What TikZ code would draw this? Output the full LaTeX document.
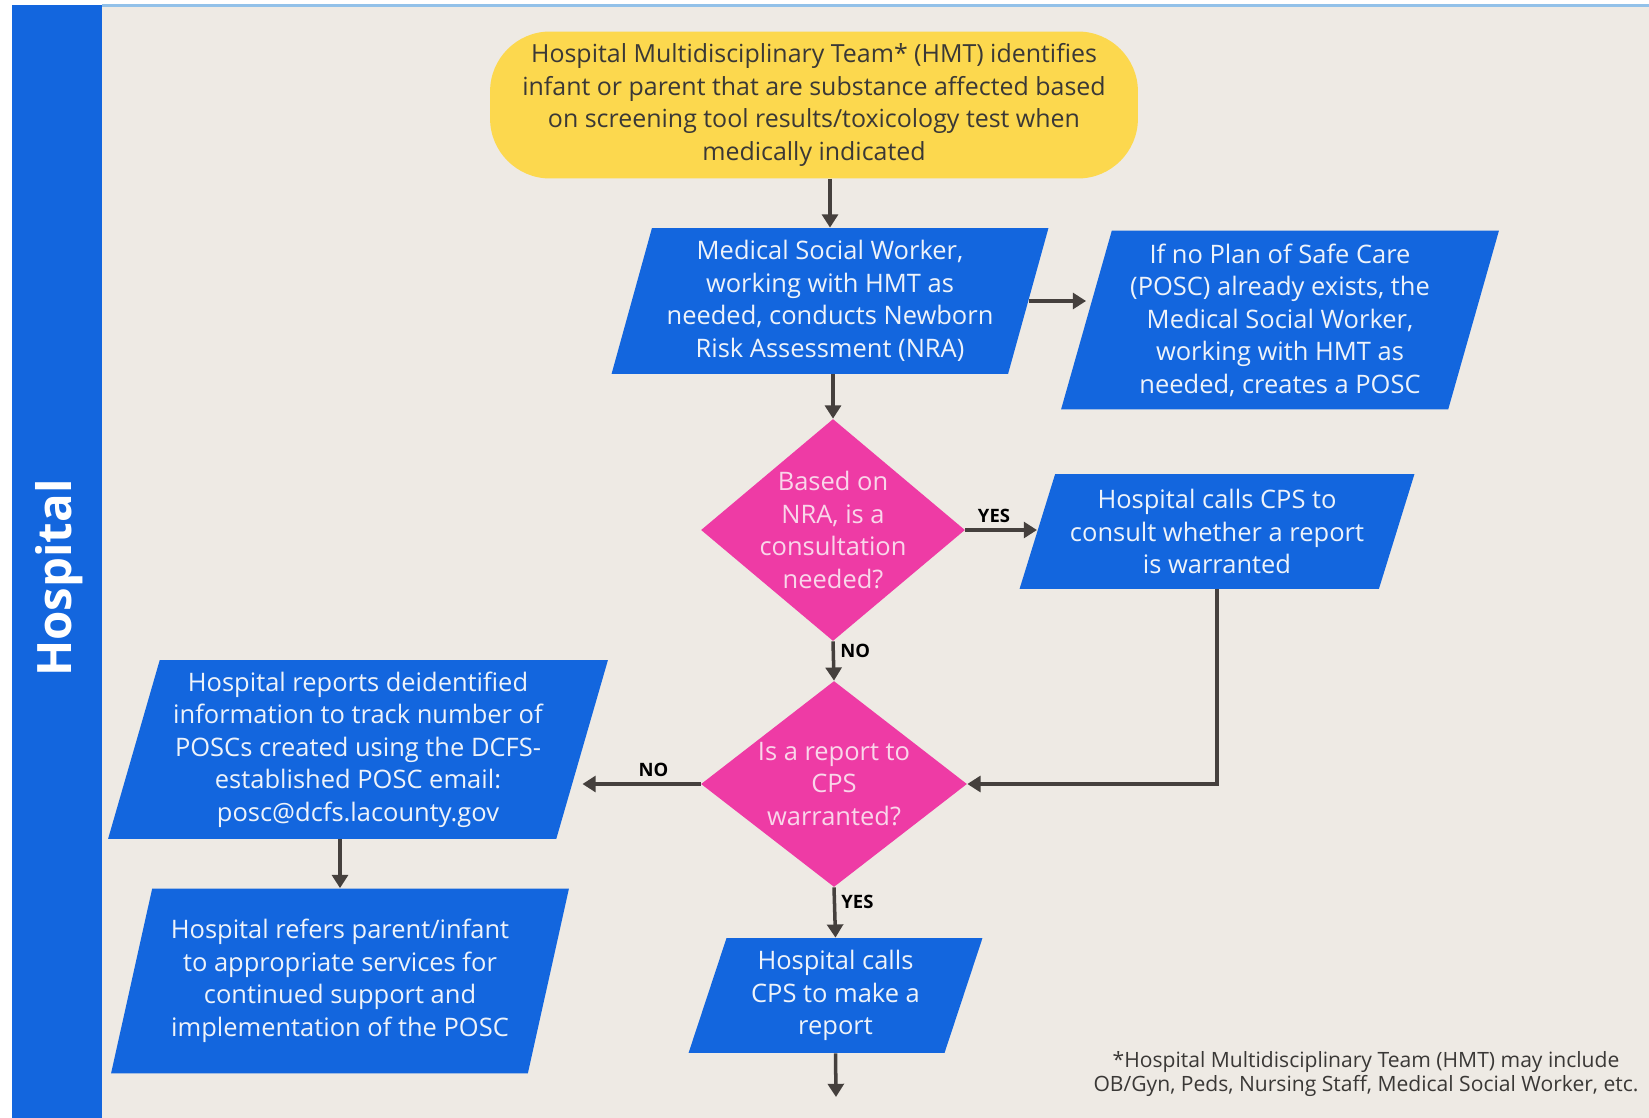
\documentclass[tikz,border=0pt]{standalone}
\usepackage{fontspec}
\setmainfont{Open Sans}
\usetikzlibrary{shapes.geometric, arrows.meta, positioning}

\definecolor{hblue}{HTML}{1366DE}
\definecolor{hyellow}{HTML}{FCD84E}
\definecolor{hpink}{HTML}{EE3BA5}
\definecolor{bgbeige}{HTML}{EEEAE4}
\definecolor{topline}{HTML}{92C1E9}
\definecolor{arrowgray}{HTML}{45403D}
\definecolor{darktext}{HTML}{3A3836}
\definecolor{paratext}{HTML}{EEF3FA}
\definecolor{pinktext}{HTML}{F9D6EA}

\newcommand{\boxfont}{\fontsize{14.5}{18.5}\selectfont}

\begin{document}
\begin{tikzpicture}[
		x=0.02cm, y=-0.02cm,
		start/.style={rectangle, rounded corners=1.2cm, fill=hyellow,
			text=darktext, align=center, font=\fontsize{14.2}{18.5}\selectfont},
		para/.style={trapezium, trapezium left angle=72, trapezium right angle=108,
			trapezium stretches body=true, fill=hblue, text=paratext,
			align=center, inner sep=1pt, font=\boxfont},
		short/.style={trapezium left angle=68, trapezium right angle=112},
		decision/.style={diamond, fill=hpink, inner sep=0pt},
		qtext/.style={align=center, text=pinktext, font=\boxfont},
		arrow/.style={-{Triangle[length=7.5pt, width=9pt]}, line width=2pt, draw=arrowgray},
		lab/.style={font=\bfseries\fontsize{10.5}{12}\selectfont, text=black, inner sep=3pt}
		]
		% page and swimlane
		\useasboundingbox (0,0) rectangle (1649,1118);
		\fill[bgbeige] (102,7) rectangle (1649,1118);
		\fill[hblue] (12,5) rectangle (102,1118);
		\draw[topline, line width=0.06cm] (102,6) -- (1649,6);
		\node[rotate=90, text=white, font=\bfseries\fontsize{27}{30}\selectfont] (lane) at (59,578) {Hospital};
		
		\node[start, minimum width=12.96cm, minimum height=2.94cm] (hmt) at (814,105)
		{Hospital Multidisciplinary Team* (HMT) identifies\\infant or parent that are substance affected based\\on screening tool results/toxicology test when\\medically indicated};
		\node[para, minimum width=8.74cm, minimum height=2.92cm] (nra) at (830,301)
		{Medical Social Worker,\\working with HMT as\\needed, conducts Newborn\\Risk Assessment (NRA)};
		\node[para, minimum width=8.76cm, minimum height=3.58cm] (posc) at (1280,320)
		{If no Plan of Safe Care\\(POSC) already exists, the\\Medical Social Worker,\\working with HMT as\\needed, creates a POSC};
		\node[decision, minimum width=5.28cm, minimum height=4.44cm,
		label={[qtext]center:{Based on\\NRA, is a\\consultation\\needed?}}] (q1) at (833,530) {};
		\node[para, short, minimum width=7.9cm, minimum height=2.3cm] (consult) at (1217,531.5)
		{Hospital calls CPS to\\consult whether a report\\is warranted};
		\node[decision, minimum width=5.32cm, minimum height=4.12cm,
		label={[qtext]center:{Is a report to\\CPS\\warranted?}}] (q2) at (834,784) {};
		\node[para, minimum width=10cm, minimum height=3.58cm] (track) at (358,749.5)
		{Hospital reports deidentified\\information to track number of\\POSCs created using the DCFS-\\established POSC email:\\posc@dcfs.lacounty.gov};
		\node[para, minimum width=9.16cm, minimum height=3.7cm] (refer) at (340,981)
		{Hospital refers parent/infant\\to appropriate services for\\continued support and\\implementation of the POSC};
		\node[para, short, minimum width=5.88cm, minimum height=2.3cm] (report) at (835.5,995.5)
		{Hospital calls\\CPS to make a\\report};
		\coordinate (next) at (836,1097);
		
		\node[align=center, text=darktext, font=\fontsize{12}{14}\selectfont] (foot) at (1366,1074)
		{*Hospital Multidisciplinary Team (HMT) may include\\OB/Gyn, Peds, Nursing Staff, Medical Social Worker, etc.};
		
		\draw[arrow] (nra.center |- hmt.south) -- (nra.center |- nra.north);
		\draw[arrow] (nra.east) -- (posc.west |- nra.east);
		\draw[arrow] (q1.center |- nra.south) -- (q1.north);
		\draw[arrow] (q1.east) -- node[lab, above, pos=.4] {YES} (consult.west |- q1.east);
		\draw[arrow] (q1.south) -- node[lab, right, pos=.25] {NO} (q2.north);
		\draw[arrow] (consult.center |- consult.south) |- (q2.east);
		\draw[arrow] (q2.west) -- node[lab, above, pos=.4] {NO} (track.east |- q2.west);
		\draw[arrow] (refer.center |- track.south) -- (refer.center |- refer.north);
		\draw[arrow] (q2.south) -- node[lab, right, pos=.28] {YES} (report.center |- report.north);
		\draw[arrow] (report.center |- report.south) -- (next);
	\end{tikzpicture}
\end{document}
